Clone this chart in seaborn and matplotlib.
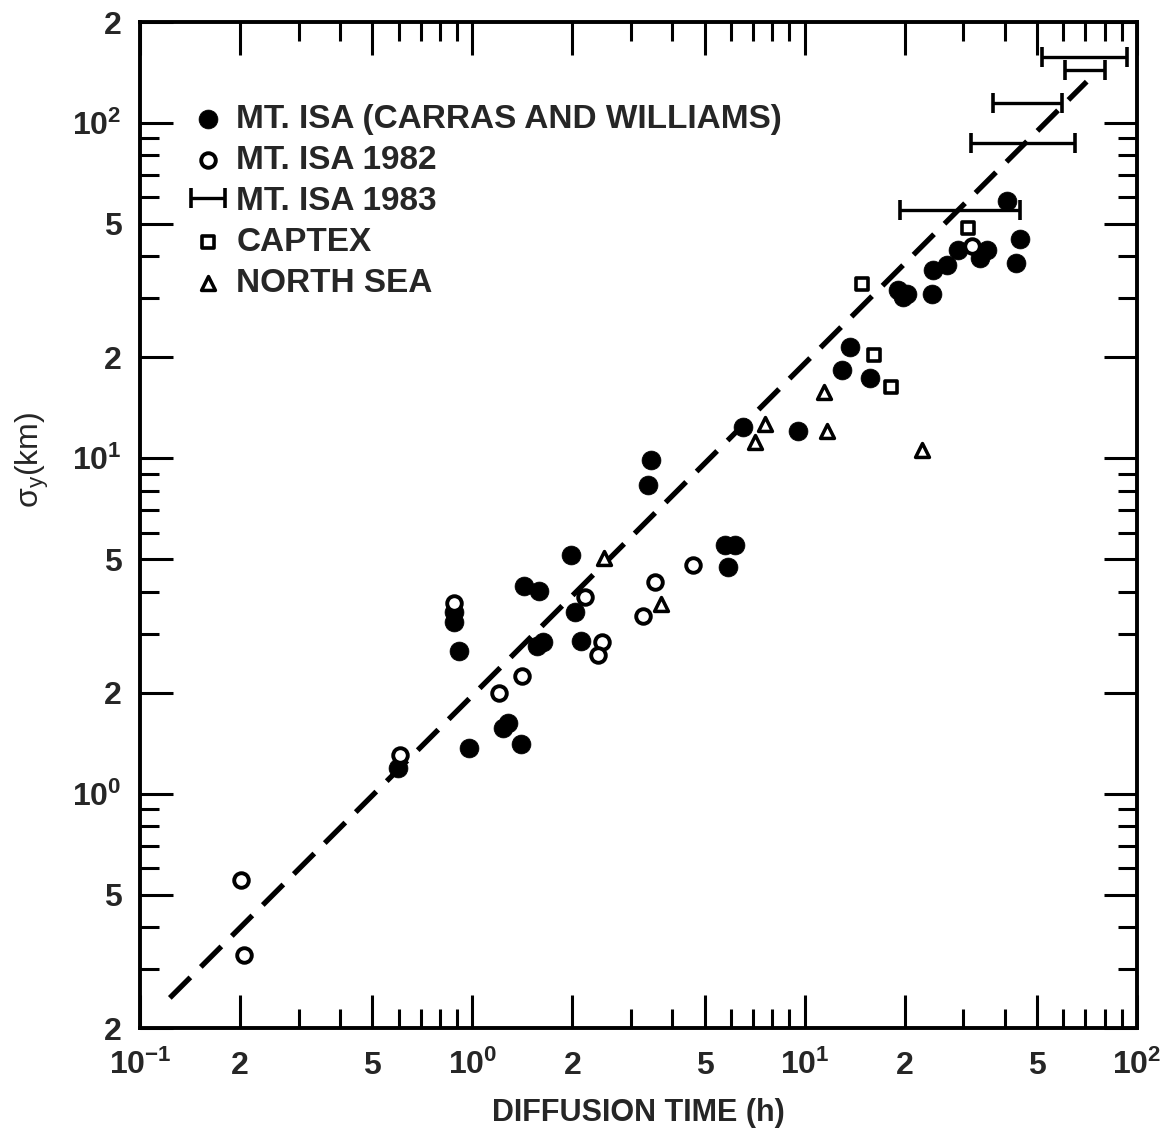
import matplotlib
matplotlib.use("Agg")
import matplotlib.pyplot as plt
from matplotlib.ticker import FixedLocator, FixedFormatter, NullFormatter
import seaborn as sns

# MT. ISA (Carras and Williams) - filled circles
carras_t = [0.599, 0.979, 1.240, 1.283, 1.402, 0.881, 0.881, 0.912, 1.431, 1.591,
            1.562, 1.636, 1.978, 2.038, 2.124, 3.385, 3.442, 5.76, 6.17, 5.87,
            6.51, 9.57, 12.98, 13.70, 15.73, 19.14, 20.29, 19.82, 24.13, 24.40,
            26.77, 29.00, 35.32, 33.71, 40.56, 44.48, 43.27]
carras_sigma = [1.19, 1.37, 1.57, 1.62, 1.41, 3.48, 3.25, 2.66, 4.16, 4.03,
                2.75, 2.84, 5.15, 3.49, 2.86, 8.32, 9.88, 5.51, 5.51, 4.75,
                12.4, 12.1, 18.3, 21.5, 17.4, 31.7, 31.0, 30.3, 31.0, 36.4,
                37.7, 41.8, 41.8, 39.7, 58.5, 45.1, 38.3]

# MT. ISA 1982 - open circles
isa82_t = [0.202, 0.206, 0.606, 0.881, 1.203, 1.408, 2.184, 2.461, 2.394, 3.27,
           3.554, 4.606, 31.8]
isa82_sigma = [0.552, 0.330, 1.30, 3.70, 1.99, 2.24, 3.86, 2.84, 2.59, 3.38,
               4.28, 4.80, 43.0]

# MT. ISA 1983 - diffusion time ranges
isa83_t_lo = [51.7, 60.8, 36.8, 31.7, 19.4]
isa83_t_hi = [93.1, 80.2, 59.4, 65.1, 44.5]
isa83_sigma = [157.6, 143.9, 114.4, 86.9, 55.0]

# CAPTEX - squares
captex_t = [14.85, 16.18, 18.20, 31.1]
captex_sigma = [33.2, 20.3, 16.3, 48.5]

# NORTH SEA - triangles
northsea_t = [2.49, 3.70, 7.60, 7.09, 11.44, 11.65, 22.5]
northsea_sigma = [5.03, 3.69, 12.65, 11.2, 15.8, 12.1, 10.6]

# dashed reference line (end points)
fit_t = [0.123, 70.6]
fit_sigma = [0.246, 132.8]

x_major = [0.1, 0.2, 0.5, 1, 2, 5, 10, 20, 50, 100]
x_labels = [r'$\mathbf{10^{-1}}$', '2', '5', r'$\mathbf{10^{0}}$', '2', '5',
            r'$\mathbf{10^{1}}$', '2', '5', r'$\mathbf{10^{2}}$']
y_major = [0.2, 0.5, 1, 2, 5, 10, 20, 50, 100, 200]
y_labels = ['2', '5', r'$\mathbf{10^{0}}$', '2', '5', r'$\mathbf{10^{1}}$',
            '2', '5', r'$\mathbf{10^{2}}$', '2']

sns.set_theme(style='ticks')
plt.rcParams['font.family'] = ['Liberation Sans', 'DejaVu Sans']
plt.rcParams['mathtext.fontset'] = 'custom'
plt.rcParams['mathtext.rm'] = 'Liberation Sans'
plt.rcParams['mathtext.it'] = 'Liberation Sans:italic'
plt.rcParams['mathtext.bf'] = 'Liberation Sans:bold'

fig = plt.figure(figsize=(11.76, 11.41), dpi=100)
ax = fig.add_axes([0.1190, 0.0990, 0.8478, 0.8817])
ax.set_xscale('log')
ax.set_yscale('log')

sns.lineplot(x=fit_t, y=fit_sigma, color='black', lw=3.8,
             linestyle=(0, (5.5, 2.8)), ax=ax, zorder=2)

sns.scatterplot(x=carras_t, y=carras_sigma, marker='o', s=185, color='black',
                edgecolor='black', linewidth=0.5, ax=ax, zorder=3,
                label='MT. ISA (CARRAS AND WILLIAMS)')
sns.scatterplot(x=isa82_t, y=isa82_sigma, marker='o', s=110, facecolor='white',
                edgecolor='black', linewidth=2.8, ax=ax, zorder=4,
                label='MT. ISA 1982')
sns.scatterplot(x=captex_t, y=captex_sigma, marker='s', s=65, facecolor='white',
                edgecolor='black', linewidth=2.6, ax=ax, zorder=4,
                label='CAPTEX')
sns.scatterplot(x=northsea_t, y=northsea_sigma, marker='^', s=100, facecolor='white',
                edgecolor='black', linewidth=2.5, ax=ax, zorder=4,
                label='NORTH SEA')

mid = [(lo * hi) ** 0.5 for lo, hi in zip(isa83_t_lo, isa83_t_hi)]
xerr = [[m - lo for m, lo in zip(mid, isa83_t_lo)],
        [hi - m for m, hi in zip(mid, isa83_t_hi)]]
ax.errorbar(mid, isa83_sigma, xerr=xerr, fmt='none', ecolor='black',
            elinewidth=2.4, capsize=7, capthick=2.6, zorder=3,
            label='MT. ISA 1983')

ax.set_xlim(0.1, 100)
ax.set_ylim(0.2, 200)

ax.xaxis.set_major_locator(FixedLocator(x_major))
ax.xaxis.set_major_formatter(FixedFormatter(x_labels))
ax.yaxis.set_major_locator(FixedLocator(y_major))
ax.yaxis.set_major_formatter(FixedFormatter(y_labels))
ax.xaxis.set_minor_formatter(NullFormatter())
ax.yaxis.set_minor_formatter(NullFormatter())

ax.tick_params(which='both', direction='in', top=True, right=True,
               width=2.2, color='black', labelsize=23)
ax.tick_params(which='major', length=24)
ax.tick_params(which='minor', length=14)
ax.tick_params(axis='x', which='major', pad=33)
ax.tick_params(axis='y', which='major', pad=13)
for lbl in ax.get_xticklabels():
    lbl.set_va('baseline')
    lbl.set_fontweight('bold')
for lbl in ax.get_yticklabels():
    lbl.set_fontweight('bold')
for sp in ax.spines.values():
    sp.set_linewidth(2.8)
    sp.set_color('black')

ax.set_xlabel('DIFFUSION TIME (h)', fontsize=22, fontweight='bold')
ax.xaxis.set_label_coords(0.5, -0.084)
ax.xaxis.label.set_va('center')
ax.set_ylabel(r'$\mathrm{\sigma_y}$(km)', fontsize=23)
ax.yaxis.set_label_coords(-0.108, 0.565)
ax.yaxis.label.set_va('center')

handles, labels = ax.get_legend_handles_labels()
order = ['MT. ISA (CARRAS AND WILLIAMS)', 'MT. ISA 1982', 'MT. ISA 1983',
         'CAPTEX', 'NORTH SEA']
hmap = dict(zip(labels, handles))
ax.legend([hmap[k] for k in order], order, loc='upper left',
          bbox_to_anchor=(0.050, 0.919), frameon=False, borderpad=0,
          borderaxespad=0, handlelength=1.1, handletextpad=0.3,
          labelspacing=0.3, prop={'size': 24, 'weight': 'bold'})

fig.savefig('out.png', dpi=100, facecolor='white')
